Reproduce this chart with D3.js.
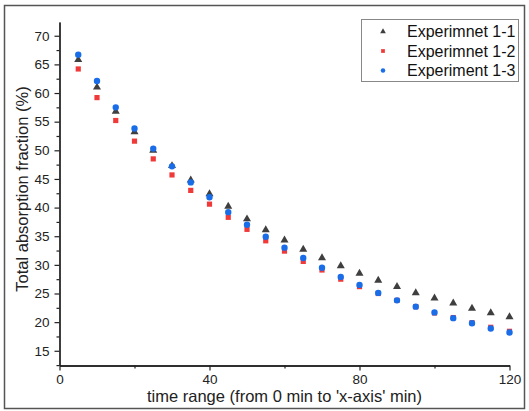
<!DOCTYPE html>
<html>
<head>
<meta charset="utf-8">
<script src="https://cdn.jsdelivr.net/npm/d3@7"></script>
<style>
  body { margin: 0; background: #fff; }
  svg { font-family: Arial, "Liberation Sans", sans-serif; }
</style>
</head>
<body>
<div id="chart"></div>
<script>
// data
var times = [5, 10, 15, 20, 25, 30, 35, 40, 45, 50, 55, 60, 65, 70, 75, 80, 85, 90, 95, 100, 105, 110, 115, 120];
var exp1 = [65.8, 61.0, 56.8, 53.2, 50.0, 47.3, 44.8, 42.4, 40.2, 38.0, 36.1, 34.3, 32.7, 31.2, 29.8, 28.5, 27.3, 26.2, 25.1, 24.2, 23.3, 22.4, 21.6, 20.9];
var exp2 = [64.2, 59.2, 55.2, 51.6, 48.5, 45.7, 43.0, 40.6, 38.3, 36.2, 34.2, 32.4, 30.6, 29.1, 27.5, 26.2, 25.0, 23.8, 22.7, 21.6, 20.8, 19.9, 19.1, 18.4];
var exp3 = [66.7, 62.1, 57.5, 53.8, 50.3, 47.2, 44.4, 41.8, 39.2, 37.0, 34.9, 33.0, 31.2, 29.5, 27.9, 26.5, 25.1, 23.8, 22.7, 21.7, 20.7, 19.8, 18.9, 18.2];
var seriesNames = ["Experimnet 1-1", "Experimnet 1-2", "Experiment 1-3"];
var xTicks = [0, 40, 80, 120];
var yTicks = [15, 20, 25, 30, 35, 40, 45, 50, 55, 60, 65, 70];

var width = 529, height = 411;

var svg = d3.select("#chart").append("svg")
  .attr("width", width)
  .attr("height", height);

// outer frame
svg.append("rect")
  .attr("x", 4.5).attr("y", 5.5)
  .attr("width", 520).attr("height", 403)
  .attr("fill", "none")
  .attr("stroke", "#555")
  .attr("stroke-width", 1.5);

var x = d3.scaleLinear().domain([0, 120]).range([59.5, 509.5]);
var y = d3.scaleLinear().domain([12.43, 72.4]).range([365.5, 22]);

// axes, major + minor ticks
svg.append("g")
  .attr("transform", "translate(0," + y.range()[0] + ")")
  .call(d3.axisBottom(x).tickValues(xTicks).tickSize(5).tickPadding(4).tickSizeOuter(0));
svg.append("g")
  .attr("transform", "translate(0," + y.range()[0] + ")")
  .call(d3.axisBottom(x).tickValues([20, 60, 100]).tickSize(3).tickFormat("").tickSizeOuter(0));

svg.append("g")
  .attr("transform", "translate(" + x.range()[0] + ",0)")
  .call(d3.axisLeft(y).tickValues(yTicks).tickSize(5).tickPadding(5).tickSizeOuter(0));
svg.append("g")
  .attr("transform", "translate(" + x.range()[0] + ",0)")
  .call(d3.axisLeft(y).tickValues(yTicks.map(function(d) { return d - 2.5; })).tickSize(3).tickFormat("").tickSizeOuter(0));

svg.selectAll(".domain").attr("stroke", "#222").attr("stroke-width", 1.3);
svg.selectAll(".tick line").attr("stroke", "#222").attr("stroke-width", 1.2);
svg.selectAll(".tick text")
  .attr("font-size", 13.5)
  .attr("font-family", "Arial, 'Liberation Sans', sans-serif")
  .attr("fill", "#222");

// axis titles
svg.append("text")
  .attr("x", (x.range()[0] + x.range()[1]) / 2)
  .attr("y", 402)
  .attr("text-anchor", "middle")
  .attr("font-size", 16.5)
  .attr("fill", "#222")
  .text("time range (from 0 min to 'x-axis' min)");

svg.append("text")
  .attr("transform", "translate(27.5,189) rotate(-90)")
  .attr("text-anchor", "middle")
  .attr("font-size", 16.5)
  .attr("fill", "#222")
  .text("Total absorption fraction (%)");

var colors = ["#3f3f3f", "#f03a3a", "#1a6de8"];
var tri = d3.symbol().type(d3.symbolTriangle).size(28);
var sq = d3.symbol().type(d3.symbolSquare).size(27);
var circ = d3.symbol().type(d3.symbolCircle).size(32);

var series = [exp1, exp2, exp3];
var shapes = [tri, sq, circ];

series.forEach(function(vals, s) {
  svg.append("g")
    .selectAll("path")
    .data(vals)
    .enter().append("path")
    .attr("d", shapes[s])
    .attr("fill", colors[s])
    .attr("transform", function(d, i) { return "translate(" + x(times[i]) + "," + y(d) + ")"; });
});

// legend
var legend = svg.append("g");
legend.append("rect")
  .attr("x", 361.5).attr("y", 19.5)
  .attr("width", 157).attr("height", 62)
  .attr("fill", "#fff")
  .attr("stroke", "#888");

var smallShapes = [
  d3.symbol().type(d3.symbolTriangle).size(14),
  d3.symbol().type(d3.symbolSquare).size(14),
  d3.symbol().type(d3.symbolCircle).size(16)
];
seriesNames.forEach(function(name, i) {
  var ly = 31.5 + i * 19.5;
  legend.append("path")
    .attr("d", smallShapes[i])
    .attr("fill", colors[i])
    .attr("transform", "translate(383," + ly + ")");
  legend.append("text")
    .attr("x", 407)
    .attr("y", ly + 5.5)
    .attr("font-size", 16)
    .attr("fill", "#111")
    .text(name);
});
</script>
</body>
</html>
